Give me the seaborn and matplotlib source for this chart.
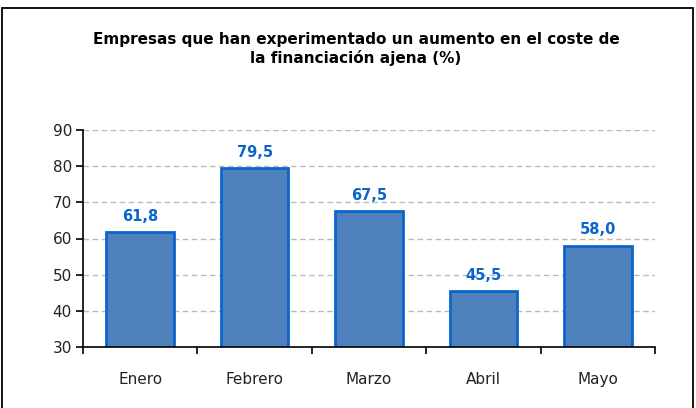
"""Bar chart: empresas con aumento en el coste de la financiación ajena."""

import matplotlib

matplotlib.use("Agg")
import matplotlib.pyplot as plt
import numpy as np
import pandas as pd
import seaborn as sns
from matplotlib.patches import Rectangle

meses = ["Enero", "Febrero", "Marzo", "Abril", "Mayo"]
valores = [61.8, 79.5, 67.5, 45.5, 58.0]
y_ticks = [30, 40, 50, 60, 70, 80, 90]

sns.set_style("white")
plt.rcParams["font.family"] = ["DejaVu Sans"]

df = pd.DataFrame({"mes": meses, "valor": valores})

fig = plt.figure(figsize=(6.96, 4.08), dpi=100)
ax = fig.add_axes([83 / 696, 1 - 347 / 408, (655 - 83) / 696, (347 - 130) / 408])

sns.barplot(
    df,
    x="mes",
    y="valor",
    color="#4F81BD",
    saturation=1,
    width=0.59,
    edgecolor="#0A66CC",
    linewidth=2,
    ax=ax,
)

ax.set_ylim(30, 90)
ax.set_xlim(-0.5, len(meses) - 0.5)
ax.set_yticks(y_ticks)
ax.set_yticklabels([str(t) for t in y_ticks], fontsize=11, color="#222222")
ax.set_xlabel("")
ax.set_ylabel("")

for t in y_ticks[1:]:
    ax.axhline(t, color="#BBBBBB", linestyle=(0, (4, 2.5)), linewidth=1, zorder=0)

ax.set_xticks(np.arange(len(meses)))
ax.set_xticklabels(meses, fontsize=11, color="#222222")
ax.tick_params(axis="x", which="major", bottom=True, length=0, pad=18)
# category boundary ticks
ax.set_xticks(np.arange(len(meses) + 1) - 0.5, minor=True)
ax.tick_params(axis="x", which="minor", bottom=True, length=5, width=1.2,
               direction="out", color="black")
ax.tick_params(axis="y", which="major", left=True, length=5, width=1.2,
               direction="out", color="black", pad=3)

for side in ["top", "right"]:
    ax.spines[side].set_visible(False)
for side in ["left", "bottom"]:
    ax.spines[side].set_color("black")
    ax.spines[side].set_linewidth(1.2)

for i, v in enumerate(valores):
    ax.annotate(
        f"{v:.1f}".replace(".", ","),
        (i, v),
        xytext=(0, 6),
        textcoords="offset points",
        ha="center",
        va="bottom",
        fontsize=10.5,
        fontweight="bold",
        color="#0A66CC",
    )

fig.text(
    356 / 696,
    1 - 49 / 408,
    "Empresas que han experimentado un aumento en el coste de\nla financiación ajena (%)",
    ha="center",
    va="center",
    fontsize=11,
    fontweight="bold",
    linespacing=1.2,
    color="black",
)

fig.patches.append(
    Rectangle(
        (2 / 696, -0.05),
        (693 - 2) / 696,
        1.05 - 8 / 408,
        transform=fig.transFigure,
        fill=False,
        edgecolor="black",
        linewidth=1.3,
    )
)

fig.savefig("out.png", dpi=100)
